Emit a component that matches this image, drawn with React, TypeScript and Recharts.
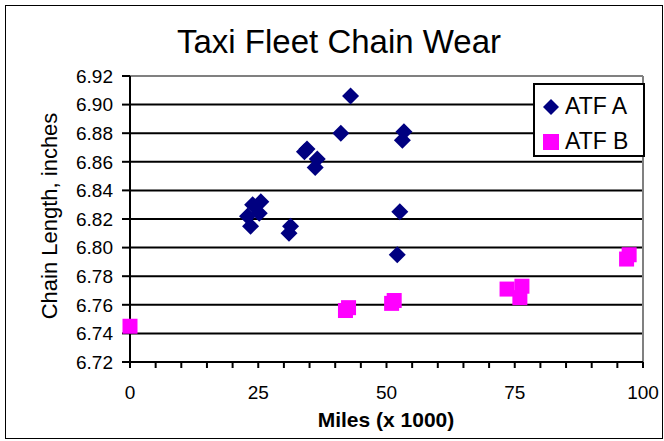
import { ScatterChart, Scatter, XAxis, YAxis, CartesianGrid, ReferenceLine } from "recharts";

const FONT = "'Liberation Sans', Arial, sans-serif";

const xTicks = [0, 5, 10, 15, 20, 25, 30, 35, 40, 45, 50, 55, 60, 65, 70, 75, 80, 85, 90, 95, 100];
const yTicks = [6.72, 6.74, 6.76, 6.78, 6.8, 6.82, 6.84, 6.86, 6.88, 6.9, 6.92];

// ATF A readings (miles x 1000, chain length in inches)
const atfAMiles = [22.9, 23.5, 23.9, 25.2, 25.5, 31.0, 31.3, 34.0, 34.5, 36.1, 36.5, 41.1, 43.0, 52.1, 52.6, 53.1, 53.4];
const atfALength = [6.822, 6.815, 6.83, 6.824, 6.832, 6.81, 6.815, 6.867, 6.869, 6.856, 6.862, 6.88, 6.906, 6.795, 6.825, 6.875, 6.881];

// ATF B readings
const atfBMiles = [0, 42.0, 42.6, 51.0, 51.5, 73.5, 76.0, 76.4, 96.8, 97.3];
const atfBLength = [6.745, 6.756, 6.758, 6.761, 6.763, 6.771, 6.765, 6.773, 6.792, 6.795];

const atfA = atfAMiles.map((m, i) => ({ miles: m, length: atfALength[i] }));
const atfB = atfBMiles.map((m, i) => ({ miles: m, length: atfBLength[i] }));

const NAVY = "#000080";
const MAGENTA = "#FF00FF";

function Diamond(props: any) {
  const { cx, cy } = props;
  const r = 8.5;
  return <polygon points={`${cx},${cy - r} ${cx + r},${cy} ${cx},${cy + r} ${cx - r},${cy}`} fill={NAVY} />;
}

function Square(props: any) {
  const { cx, cy } = props;
  return <rect x={cx - 7.5} y={cy - 7.5} width={15} height={15} fill={MAGENTA} />;
}

const tickStyle = { fill: "#000", fontSize: 19, fontFamily: FONT };

export default function App() {
  return (
    <div style={{ position: "absolute", left: 0, top: 0, width: 664, height: 441, background: "#fff", fontFamily: FONT }}>
      <div
        style={{
          position: "absolute",
          left: 5,
          top: 5,
          width: 658,
          height: 434,
          border: "1px solid #000",
          boxSizing: "border-box",
        }}
      />
      <div style={{ position: "absolute", left: 0, top: 0 }}>
        <ScatterChart width={664} height={441} margin={{ top: 76, right: 21, bottom: 0, left: 0 }}>
          <CartesianGrid vertical={false} stroke="#000" strokeWidth={2} />
          <XAxis
            type="number"
            dataKey="miles"
            domain={[0, 100]}
            ticks={xTicks}
            interval={0}
            height={79}
            tickSize={6}
            tickMargin={18}
            tick={tickStyle}
            tickFormatter={(v: number) => (v % 25 === 0 ? String(v) : "")}
            axisLine={{ stroke: "#000", strokeWidth: 2 }}
            tickLine={{ stroke: "#000", strokeWidth: 2 }}
          />
          <YAxis
            type="number"
            dataKey="length"
            domain={[6.72, 6.92]}
            ticks={yTicks}
            interval={0}
            width={130}
            tickSize={8}
            tickMargin={9}
            tick={tickStyle}
            tickFormatter={(v: number) => v.toFixed(2)}
            axisLine={{ stroke: "#000", strokeWidth: 2 }}
            tickLine={{ stroke: "#000", strokeWidth: 2 }}
          />
          <ReferenceLine y={6.92} stroke="#808080" strokeWidth={2} />
          <ReferenceLine x={100} stroke="#808080" strokeWidth={2} />
          <Scatter name="ATF A" data={atfA} shape={Diamond} isAnimationActive={false} />
          <Scatter name="ATF B" data={atfB} shape={Square} isAnimationActive={false} />
        </ScatterChart>
      </div>
      <div
        style={{
          position: "absolute",
          left: 177,
          top: 23,
          fontSize: 33,
          lineHeight: "38px",
          whiteSpace: "nowrap",
          color: "#000",
        }}
      >
        Taxi Fleet Chain Wear
      </div>
      <div
        style={{
          position: "absolute",
          left: 50,
          top: 216,
          transform: "translate(-50%, -50%) rotate(-90deg)",
          fontSize: 22,
          whiteSpace: "nowrap",
          color: "#000",
        }}
      >
        Chain Length, inches
      </div>
      <div
        style={{
          position: "absolute",
          left: 386,
          top: 420,
          transform: "translate(-50%, -50%)",
          fontSize: 21,
          fontWeight: "bold",
          whiteSpace: "nowrap",
          color: "#000",
        }}
      >
        Miles (x 1000)
      </div>
      <div
        style={{
          position: "absolute",
          left: 533,
          top: 83,
          width: 112,
          height: 74,
          border: "2px solid #000",
          boxSizing: "border-box",
          background: "#fff",
          fontSize: 23,
          color: "#000",
        }}
      >
        <div style={{ position: "absolute", left: 7, top: 8, display: "flex", alignItems: "center", whiteSpace: "nowrap" }}>
          <svg width={18} height={18} style={{ marginRight: 5 }}>
            <polygon points="9,1 17,9 9,17 1,9" fill={NAVY} />
          </svg>
          ATF A
        </div>
        <div style={{ position: "absolute", left: 7, top: 43, display: "flex", alignItems: "center", whiteSpace: "nowrap" }}>
          <svg width={18} height={18} style={{ marginRight: 5 }}>
            <rect x={1} y={1} width={16} height={16} fill={MAGENTA} />
          </svg>
          ATF B
        </div>
      </div>
    </div>
  );
}
